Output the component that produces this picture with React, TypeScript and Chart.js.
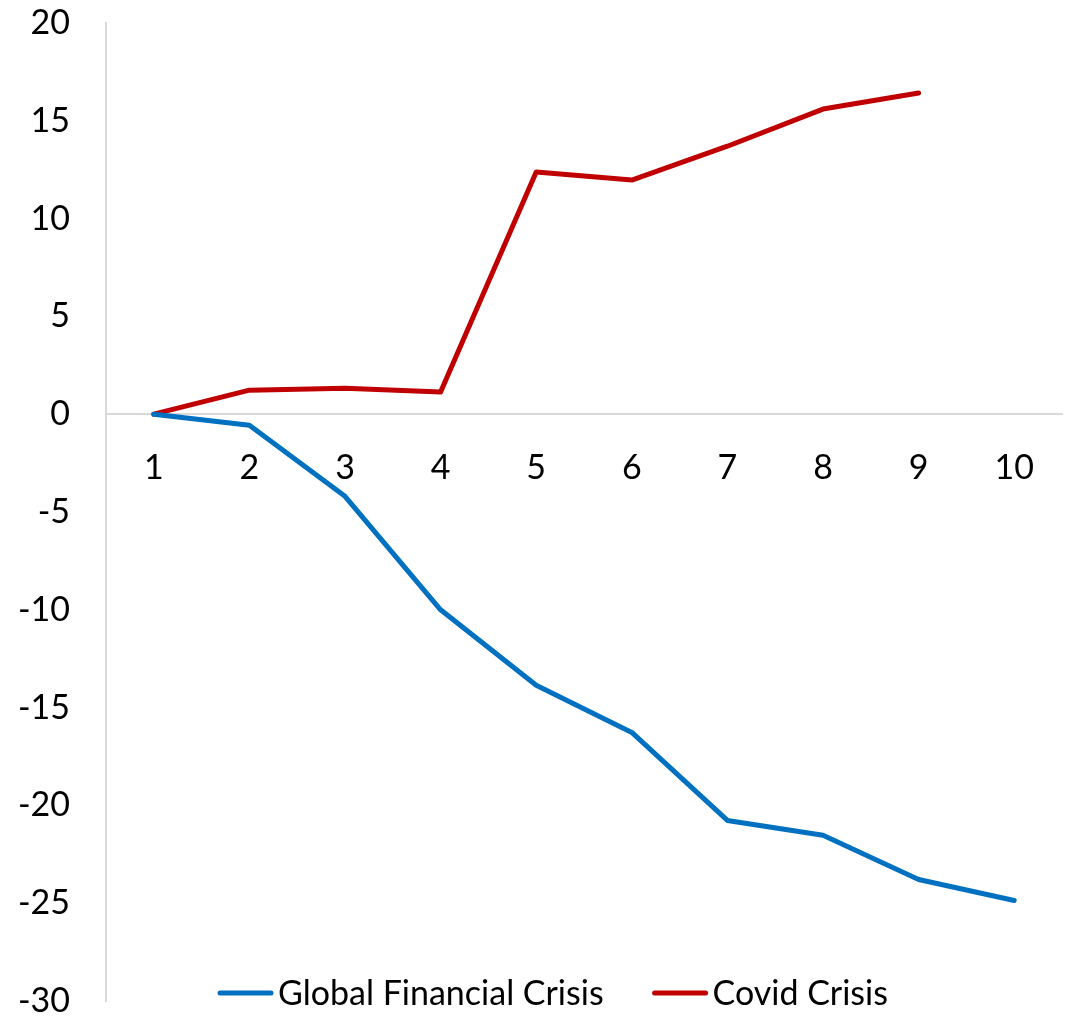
import React, { useEffect, useRef } from "react";
import { Chart, registerables } from "chart.js";

Chart.register(...registerables);

const categories = ["1", "2", "3", "4", "5", "6", "7", "8", "9", "10"];
const gfcValues = [0, -0.56, -4.2, -10.0, -13.86, -16.27, -20.77, -21.53, -23.79, -24.86];
const covidValues = [0, 1.23, 1.33, 1.13, 12.38, 11.97, 13.7, 15.6, 16.42, null];
const seriesLabels = ["Global Financial Crisis", "Covid Crisis"];
const seriesColors = ["#0070C0", "#C00000"];

const FONT = "Lato, 'Open Sans', sans-serif";

const customLegend = {
  id: "customLegend",
  afterDraw(chart: any) {
    const ctx = chart.ctx;
    const ds = chart.data.datasets;
    ctx.save();
    ctx.font = `34px ${FONT}`;
    const lineLen = 55;
    const gapLineText = 5;
    const gapItems = 49;
    const widths = ds.map((d: any) => ctx.measureText(d.label).width);
    let total = 0;
    widths.forEach((w: number, i: number) => {
      total += lineLen + gapLineText + w + (i < widths.length - 1 ? gapItems : 0);
    });
    let x = 553 - total / 2;
    const y = 993;
    ds.forEach((d: any, i: number) => {
      ctx.strokeStyle = d.borderColor;
      ctx.lineWidth = 5;
      ctx.lineCap = "round";
      ctx.beginPath();
      ctx.moveTo(x + 2, y);
      ctx.lineTo(x + lineLen - 2, y);
      ctx.stroke();
      x += lineLen + gapLineText;
      ctx.fillStyle = "#000";
      ctx.textBaseline = "middle";
      ctx.textAlign = "left";
      ctx.fillText(d.label, x, y + 1);
      x += widths[i] + gapItems;
    });
    ctx.restore();
  },
};

export default function App() {
  const ref = useRef<HTMLCanvasElement>(null);
  useEffect(() => {
    if (!ref.current) return;
    const chart = new Chart(ref.current, {
      type: "line",
      data: {
        labels: categories,
        datasets: [
          {
            label: seriesLabels[0],
            data: gfcValues,
            borderColor: seriesColors[0],
            backgroundColor: seriesColors[0],
            borderWidth: 5,
            pointRadius: 0,
            tension: 0,
            borderCapStyle: "round",
            borderJoinStyle: "round",
          },
          {
            label: seriesLabels[1],
            data: covidValues,
            borderColor: seriesColors[1],
            backgroundColor: seriesColors[1],
            borderWidth: 5,
            pointRadius: 0,
            tension: 0,
            borderCapStyle: "round",
            borderJoinStyle: "round",
          },
        ],
      },
      options: {
        animation: false,
        responsive: false,
        maintainAspectRatio: false,
        layout: { autoPadding: false, padding: { top: 23, bottom: 16, right: 14, left: 0 } },
        plugins: {
          legend: { display: false },
          tooltip: { enabled: false },
        },
        scales: {
          x: {
            type: "category",
            offset: true,
            position: { y: 0 } as any,
            grid: { display: false, drawTicks: false },
            border: { display: true, color: "#d9d9d9", width: 2 },
            ticks: {
              color: "#000",
              font: { family: FONT, size: 34 },
              padding: 33,
              maxRotation: 0,
            },
            afterFit(scale: any) {
              scale.height = 0;
              scale.paddingLeft = 0;
              scale.paddingRight = 0;
            },
          },
          y: {
            min: -30,
            max: 20,
            grid: { display: false, drawTicks: false },
            border: { display: true, color: "#d9d9d9", width: 2 },
            ticks: {
              stepSize: 5,
              color: "#000",
              font: { family: FONT, size: 34 },
              padding: 36,
            },
            afterFit(scale: any) {
              scale.width = 106;
              scale.paddingTop = 0;
              scale.paddingBottom = 0;
            },
          },
        },
      },
      plugins: [customLegend],
    });
    return () => chart.destroy();
  }, []);
  return (
    <div style={{ position: "fixed", left: 0, top: 0, width: 1076, height: 1017, background: "#fff" }}>
      <canvas ref={ref} width={1076} height={1017} style={{ width: 1076, height: 1017 }} />
    </div>
  );
}
